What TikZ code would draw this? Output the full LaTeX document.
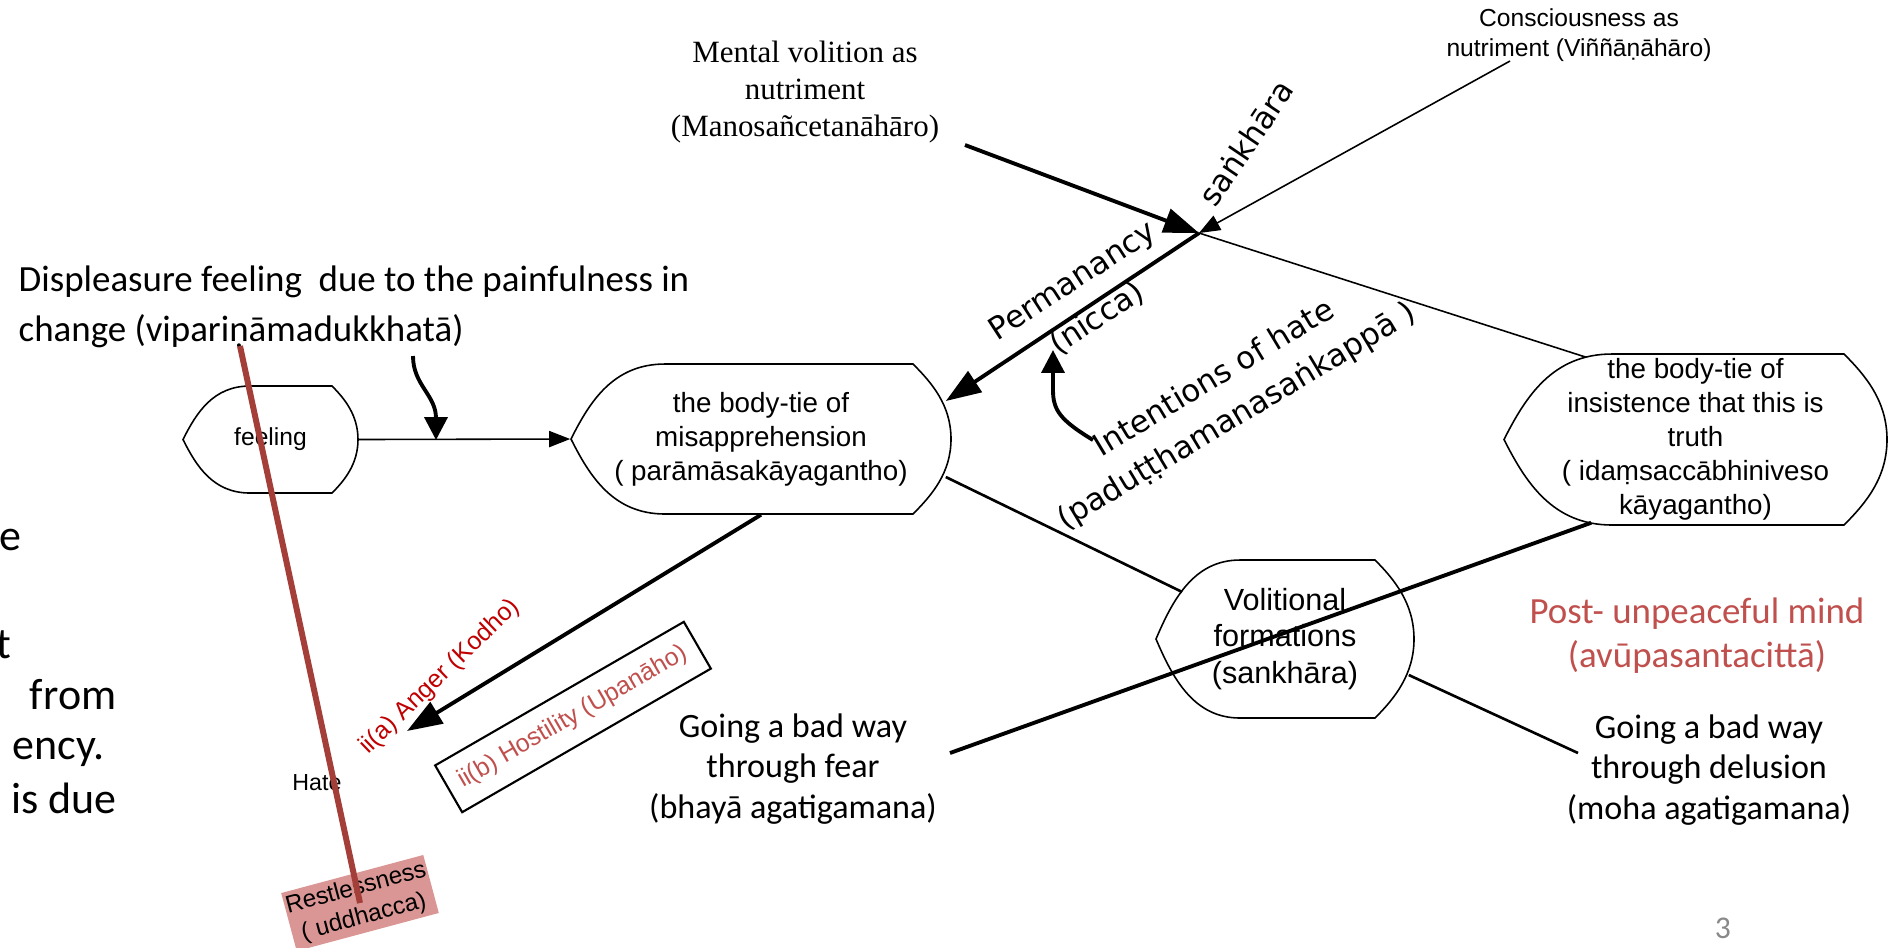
\documentclass[tikz,border=0pt]{standalone}
\usepackage{fontspec}
\setmainfont{Liberation Sans}
\newfontfamily\califont{Carlito}
\newfontfamily\serffont{Liberation Serif}
\newfontfamily\verdfont{DejaVu Sans}
\usetikzlibrary{arrows.meta,calc}

\definecolor{kodhored}{RGB}{192,0,0}
\definecolor{softred}{RGB}{192,80,77}
\definecolor{rustline}{RGB}{163,62,56}
\definecolor{restpink}{RGB}{217,150,148}
\definecolor{pagegray}{RGB}{137,137,137}

% display-like outline: left tip L, top line from A to B, right bulge R, top T, bottom Bt
\newcommand{\dispshape}[6]{%
  \pgfmathsetmacro{\shpcy}{(#5+#6)/2}
  \pgfmathsetmacro{\shpdx}{#4-#3}
  \pgfmathsetmacro{\shphh}{(#6-#5)/2}
  \pgfmathsetmacro{\shplw}{#2-#1}
  \draw[shapeline] (#2,#5) -- (#3,#5)
    .. controls ({#3+0.5*\shpdx},{#5+0.5*\shpdx}) and (#4,{\shpcy-0.45*\shphh}) .. (#4,\shpcy)
    .. controls (#4,{\shpcy+0.45*\shphh}) and ({#3+0.5*\shpdx},{#6-0.5*\shpdx}) .. (#3,#6)
    -- (#2,#6)
    .. controls ({#2-0.55*\shplw},#6) and ({#1+0.2*\shplw},{\shpcy+0.5*\shphh}) .. (#1,\shpcy)
    .. controls ({#1+0.2*\shplw},{\shpcy-0.5*\shphh}) and ({#2-0.55*\shplw},#5) .. cycle;
}

\tikzset{
  shapeline/.style={line width=0.45pt},
  thinline/.style={line width=0.45pt},
  midline/.style={line width=0.75pt},
  heavyline/.style={line width=1.1pt},
  bigtip/.style={-{Triangle[length=10pt,width=7pt]}},
  midtip/.style={-{Triangle[length=6.5pt,width=6.5pt]}},
  smalltip/.style={-{Triangle[length=6pt,width=4.6pt]}},
  tienode/.style={align=center,font=\fontsize{7.9}{9.7}\selectfont},
  slanttext/.style={align=center,font=\verdfont\fontsize{8.8}{12.7}\selectfont},
  calitext/.style={align=center,font=\califont\fontsize{9.7}{11.5}\selectfont},
}

\begin{document}
\begin{tikzpicture}[x=0.01cm,y=-0.01cm,every node/.style={inner sep=0pt}]
\useasboundingbox (0,0) rectangle (1893,947);
\clip (0,0) rectangle (1893,947);

% texts cut at the left edge
\foreach \word/\xe/\yb in {e/22/550,t/12/658,from/117/709,ency./105/759,is due/117/813}
  \node[anchor=base east,font=\califont\fontsize{12.5}{15}\selectfont] at (\xe,\yb) {\word};

% body-tie nodes
\node[minimum width=1.75cm,minimum height=1.07cm,font=\fontsize{7}{8.5}\selectfont] (feel) at (270.5,439.5) {feeling};
\node[tienode,minimum width=3.8cm,minimum height=1.5cm] (mis) at (761,439) {the body-tie of\\misapprehension\\( parāmāsakāyagantho)};
\node[tienode,minimum width=3.83cm,minimum height=1.71cm] (ins) at (1695.5,439.5) {the body-tie of\\insistence that this is\\truth\\( idaṃsaccābhiniveso\\kāyagantho)};
\node[align=center,minimum width=2.58cm,minimum height=1.58cm,font=\fontsize{8.7}{10.5}\selectfont] (vol) at (1285,639) {Volitional\\formations\\(sankhāra)};

\dispshape{183}{250}{332}{358}{386}{493}
\dispshape{571}{665}{913}{951}{364}{514}
\dispshape{1504}{1612}{1844}{1887}{354}{525}
\dispshape{1156}{1240}{1375}{1414}{560}{718}

% labels
\node[anchor=west,align=left,font=\califont\fontsize{10.5}{14.4}\selectfont] (displeasure) at (18,307) {Displeasure feeling~ due to the painfulness in\\change (vipariṇāmadukkhatā)};
\node[align=center,font=\serffont\fontsize{8.8}{10.5}\selectfont] (mental) at (805,92) {Mental volition as\\nutriment\\(Manosañcetanāhāro)};
\node[align=center,font=\fontsize{7}{8.5}\selectfont] (consc) at (1579,35) {Consciousness as\\nutriment (Viññāṇāhāro)};
\node[slanttext,rotate=56] (sankh) at (1246,143) {saṅkhāra};
\node[slanttext,rotate=33] (perm) at (1085,300) {Permanancy\\(nicca)};
\node[slanttext,rotate=31,font=\verdfont\fontsize{8.8}{12.5}\selectfont] (intent) at (1226,398) {Intentions of hate\\(paduṭṭhamanasaṅkappā )};
\node[calitext] (fear) at (793,769) {Going a bad way\\through fear\\(bhayā agatigamana)};
\node[calitext] (delu) at (1709,770) {Going a bad way\\through delusion\\(moha agatigamana)};
\node[align=center,text=softred,font=\califont\fontsize{10.5}{12.5}\selectfont] (post) at (1697,636) {Post- unpeaceful mind\\(avūpasantacittā)};
\node[rotate=44,text=kodhored,font=\fontsize{7.1}{8.5}\selectfont] (anger) at (440,677) {ii(a) Anger (Kodho)};
\node[draw,line width=0.6pt,rotate=30,minimum width=2.87cm,minimum height=0.54cm,text=softred,font=\fontsize{7.1}{8.5}\selectfont] (host) at (573,717) {ii(b) Hostility (Upanāho)};
\node[font=\fontsize{6.6}{8}\selectfont] (hate) at (317,783) {Hate};
\node[rotate=15,fill=restpink,align=center,minimum width=1.47cm,minimum height=0.6cm,font=\fontsize{6.9}{8.5}\selectfont] (rest) at (360,903) {Restlessness\\( uddhacca)};
\node[text=pagegray,font=\califont\fontsize{9}{10}\selectfont] (pagenum) at (1723,928) {3};

% free ends
\coordinate (apex) at (1199,233);
\coordinate (mvtail) at (965,145);
\coordinate (cntail) at (1510,61);
\coordinate (dtail) at (413,356);
\coordinate (djoin) at (436,440);
\coordinate (intail) at (1093,440);
\coordinate (intip) at (1053,350);
\coordinate (angertip) at (407,731);
\coordinate (redtop) at (240,346);

% connectors
\draw[thinline,smalltip] (feel.east) -- (mis.west);
\draw[heavyline,midtip] (dtail) .. controls (413,385) and (436,395) .. (djoin);
\draw[heavyline,bigtip] (mvtail) -- (apex);
\draw[thinline,smalltip] (cntail) -- (apex);
\draw[heavyline,bigtip] (apex) -- ($(mis.east)+(-6,-38)$);
\draw[thinline] (apex) -- ($(ins.north west)+(83,4)$);
\draw[heavyline,midtip] (intail) .. controls (1060,420) and (1053,410) .. (1053,390) -- (intip);
\draw[midline] ($(mis.east)+(-6,38)$) -- ($(vol.west)+(27,-47)$);
\draw[heavyline] ($(fear.center)+(157,-16)$) -- ($(ins.south west)+(88,-3)$);
\draw[midline] ($(vol.east)+(-6,36)$) -- ($(delu.center)+(-131,-17)$);
\draw[heavyline,bigtip] (mis.south) -- (angertip);
\draw[rustline,line width=1.7pt] (redtop) -- (rest.center);
\end{tikzpicture}
\end{document}
